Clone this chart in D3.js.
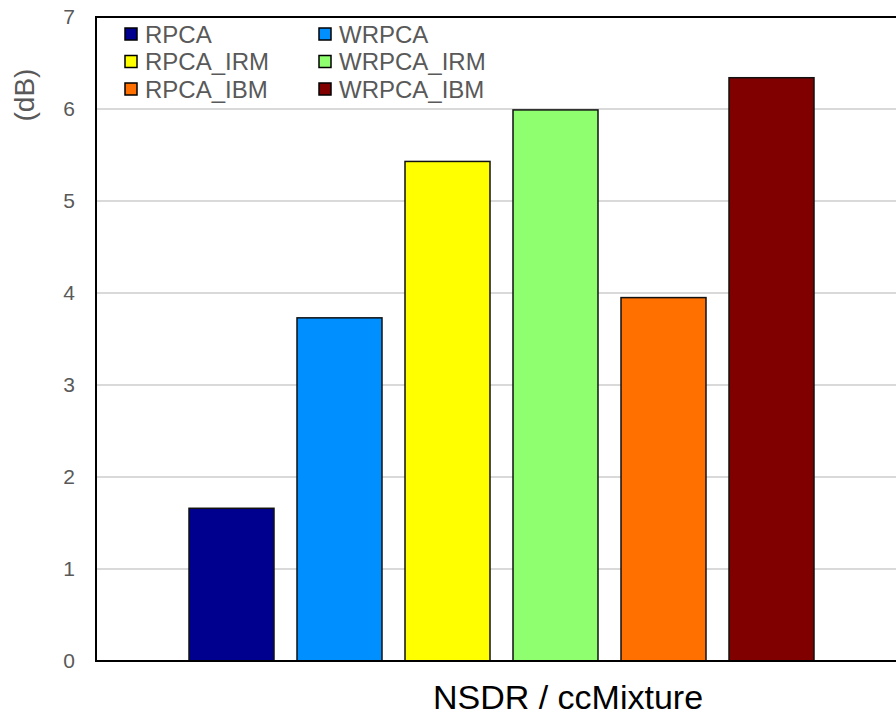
<!DOCTYPE html>
<html>
<head>
<meta charset="utf-8">
<script src="https://cdn.jsdelivr.net/npm/d3@7"></script>
<style>
	body{margin:0;background:#fff;}
	svg{display:block;font-family:"Liberation Sans", Arial, sans-serif;}
</style>
</head>
<body>
<script>
const series = ["RPCA", "WRPCA", "RPCA_IRM", "WRPCA_IRM", "RPCA_IBM", "WRPCA_IBM"],
values = [1.66, 3.73, 5.43, 5.99, 3.95, 6.34],
colors = ["#00008f", "#008fff", "#ffff00", "#8fff70", "#ff7000", "#800000"],
yTicks = [0, 1, 2, 3, 4, 5, 6, 7],
category = "NSDR / ccMixture",
yTitle = "(dB)"

const W = 896, H = 715,
plot = {left: 96, top: 17, right: 906, bottom: 661}

const svg = d3.select("body").append("svg")
	.attr("width", W).attr("height", H)

const y = d3.scaleLinear().domain([0, 7]).range([plot.bottom, plot.top])
const x = d3.scaleBand().domain(series)
	.range([plot.left + 93, plot.right - 92])
	.paddingInner(0.213).paddingOuter(0)

// grid
svg.append("g").selectAll("line")
	.data(yTicks.filter(d => d > 0 && d < 7))
	.enter().append("line")
	.attr("x1", plot.left).attr("x2", plot.right)
	.attr("y1", d => y(d)).attr("y2", d => y(d))
	.attr("stroke", "#d9d9d9").attr("stroke-width", 2)

// y axis labels
const yAxis = svg.append("g")
	.attr("transform", `translate(${plot.left},0)`)
	.call(d3.axisLeft(y).tickValues(yTicks).tickSize(0).tickPadding(21).tickFormat(d3.format("d")))
yAxis.select(".domain").remove()
yAxis.selectAll("text")
	.attr("font-size", 21).attr("fill", "#595959")
	.attr("font-family", "Liberation Sans, Arial, sans-serif")

// bars
svg.append("g").selectAll("rect")
	.data(series)
	.enter().append("rect")
	.attr("x", d => x(d))
	.attr("width", x.bandwidth())
	.attr("y", (d, i) => y(values[i]))
	.attr("height", (d, i) => y(0) - y(values[i]))
	.attr("fill", (d, i) => colors[i])
	.attr("stroke", "#111").attr("stroke-width", 1.5)

// frame
const frame = "fill: none; stroke: #000; stroke-width: 2;"
svg.append("path")
	.attr("d", `M${plot.right},${plot.top} H${plot.left} V${plot.bottom} H${plot.right}`)
	.attr("style", frame)

// titles
svg.append("text")
	.attr("transform", `translate(34,95) rotate(-90)`)
	.attr("text-anchor", "middle")
	.attr("font-size", 28).attr("fill", "#595959")
	.text(yTitle)

svg.append("text")
	.attr("x", 568).attr("y", 709)
	.attr("text-anchor", "middle")
	.attr("font-size", 34).attr("fill", "#000")
	.text(category)

// legend, two columns in row-major order
const legend = svg.append("g").selectAll("g")
	.data(series)
	.enter().append("g")
	.attr("transform", (d, i) => `translate(${125 + (i % 2) * 194},${28 + Math.floor(i / 2) * 27.5})`)
legend.append("rect")
	.attr("width", 12).attr("height", 12)
	.attr("fill", (d, i) => colors[i])
	.attr("stroke", "#000").attr("stroke-width", 1.5)
legend.append("text")
	.attr("x", 20).attr("y", 6)
	.attr("dy", "0.36em")
	.attr("font-size", 24).attr("fill", "#595959")
	.text(d => d)
</script>
</body>
</html>
